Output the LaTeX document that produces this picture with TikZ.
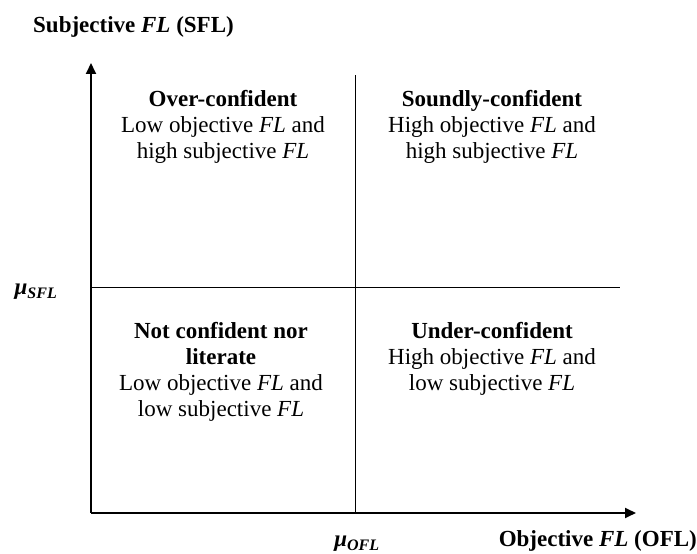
\documentclass[tikz,border=0pt]{standalone}
\usepackage{fontspec}
\setmainfont{Liberation Serif}
\usetikzlibrary{arrows.meta,positioning}

\newcommand{\fl}{\textit{FL}}
\newcommand{\muof}[1]{{\bfseries\itshape μ\textsubscript{\fontsize{16}{16}\selectfont #1}}}

\begin{document}
\begin{tikzpicture}[x=1pt,y=1pt,
    axis/.style={line width=1.8pt,-{Triangle[length=11pt,width=10pt]}},
    divider/.style={line width=0.9pt},
    quad/.style={align=center,anchor=base,font=\fontsize{23}{26}\selectfont},
    axislabel/.style={font=\fontsize{23}{26}\selectfont\bfseries}]
  \useasboundingbox (0,0) rectangle (697,554);
  % axes
  \coordinate (O) at (91,41);
  \coordinate (ytip) at (91,491);
  \coordinate (xtip) at (636,41);
  \draw[axis] (O) -- (ytip);
  \draw[axis] (O) -- (xtip);
  % dividers
  \coordinate (vtop) at (355,479);
  \coordinate (vbot) at (355,41);
  \coordinate (hleft) at (91,267);
  \coordinate (hright) at (620,267);
  \draw[divider] (vbot) -- (vtop);
  \draw[divider] (hleft) -- (hright);
  % axis labels
  \node[axislabel,anchor=base west,inner sep=0pt] (ylab) at (33,521) {Subjective \textit{FL} (SFL)};
  \node[axislabel,anchor=base east,inner sep=0pt] (xlab) at (697,7) {Objective \textit{FL} (OFL)};
  \node (musfl) at (36,262) {\fontsize{23}{23}\selectfont\muof{SFL}};
  \node (muofl) at (357,10) {\fontsize{23}{23}\selectfont\muof{OFL}};
  % quadrants (base = last line)
  \node[quad] (over) at (223,395)
    {\textbf{Over-confident}\\Low objective \fl{} and\\high subjective \fl};
  \node[quad] (sound) at (492,395)
    {\textbf{Soundly-confident}\\High objective \fl{} and\\high subjective \fl};
  \node[quad] (notconf) at (221,137)
    {\textbf{Not confident nor}\\\textbf{literate}\\Low objective \fl{} and\\low subjective \fl};
  \node[quad] (under) at (492,163)
    {\textbf{Under-confident}\\High objective \fl{} and\\low subjective \fl};
\end{tikzpicture}
\end{document}
